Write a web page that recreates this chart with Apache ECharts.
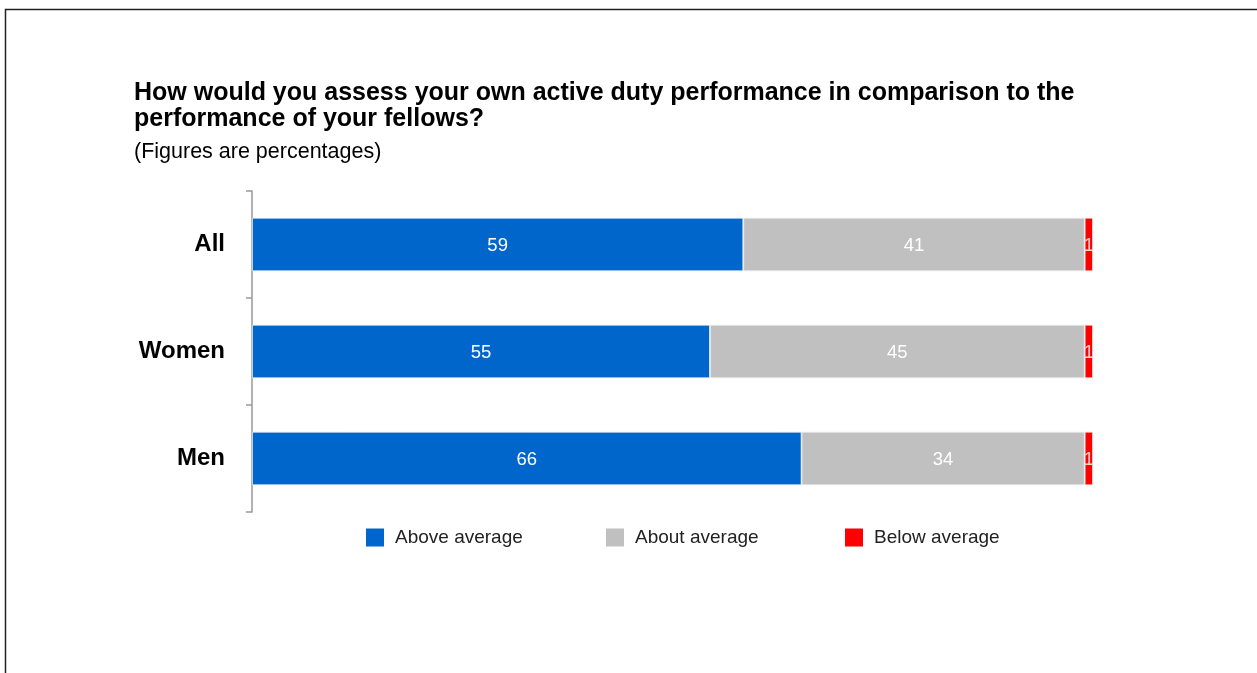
<!DOCTYPE html>
<html>
<head>
<meta charset="utf-8">
<script src="https://cdn.jsdelivr.net/npm/echarts@6/dist/echarts.min.js"></script>
<style>
html,body{margin:0;padding:0;background:#fff;}
#chart{width:1257px;height:673px;}
</style>
</head>
<body>
<div id="chart"></div>
<script>
const categories = ['All', 'Women', 'Men'];
const seriesNames = ['Above average', 'About average', 'Below average'];
const aboveAverage = [59, 55, 66];
const aboutAverage = [41, 45, 34];
const belowAverage = [1, 1, 1];
const colors = ['#0066CC', '#C0C0C0', '#FF0000'];
const seriesValues = [aboveAverage, aboutAverage, belowAverage];

const chart = echarts.init(document.getElementById('chart'), null, {renderer: 'canvas'});
const font = 'Arial, "Liberation Sans", Helvetica, sans-serif';
const legendLefts = [366, 606, 845];

const option = {
  backgroundColor: '#fff',
  animation: false,
  title: {
    text: 'How would you assess your own active duty performance in comparison to the\nperformance of your fellows?',
    subtext: '(Figures are percentages)',
    left: 134,
    top: 80,
    padding: 0,
    itemGap: 9,
    textStyle: {fontFamily: font, fontSize: 25, fontWeight: 'bold', color: '#000', lineHeight: 26},
    subtextStyle: {fontFamily: font, fontSize: 21.5, color: '#000', lineHeight: 22}
  },
  graphic: [{
    type: 'polyline',
    shape: {points: [[5.5, 673], [5.5, 9.5], [1257, 9.5]]},
    style: {stroke: '#222', lineWidth: 1.5, fill: null},
    silent: true
  }],
  legend: seriesNames.map((n, i) => ({
    data: [n],
    left: legendLefts[i],
    top: 528,
    padding: 0,
    itemWidth: 18,
    itemHeight: 18,
    icon: 'rect',
    itemStyle: {borderWidth: 0},
    textStyle: {fontFamily: font, fontSize: 19, color: '#222', padding: [0, 0, 0, 6]}
  })),
  grid: {left: 252, right: 164, top: 191, bottom: 161, containLabel: false},
  xAxis: {
    type: 'value', min: 0, max: 101,
    show: false
  },
  yAxis: {
    type: 'category',
    data: categories,
    inverse: true,
    axisLine: {show: true, lineStyle: {color: '#999', width: 1.5}},
    axisTick: {show: true, length: 6, lineStyle: {color: '#999', width: 1.5}},
    axisLabel: {margin: 27, fontFamily: font, fontSize: 24, fontWeight: 'bold', color: '#000'}
  },
  series: seriesValues.map((vals, i) => ({
    name: seriesNames[i],
    type: 'bar',
    stack: 'total',
    barWidth: '50%',
    data: vals,
    itemStyle: {color: colors[i], borderColor: '#eeeeee', borderWidth: 0.8},
    label: {show: true, position: 'inside', color: i === 2 ? '#ffd0d0' : '#fff', fontFamily: font, fontSize: 18.5, offset: [0, 1]}
  }))
};
chart.setOption(option);
</script>
</body>
</html>
